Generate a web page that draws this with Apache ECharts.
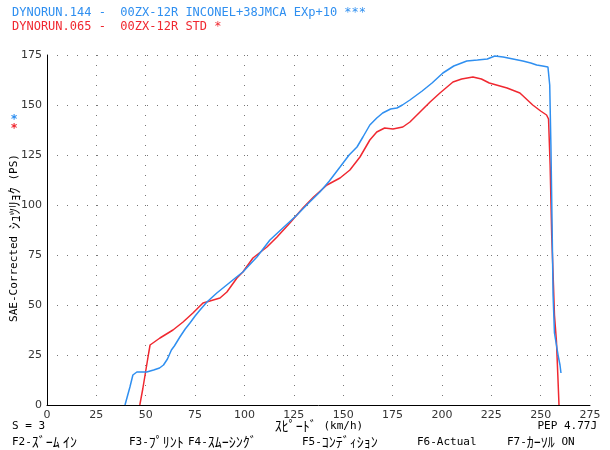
<!DOCTYPE html>
<html>
<head>
<meta charset="utf-8">
<script src="https://cdn.jsdelivr.net/npm/echarts@6/dist/echarts.min.js"></script>
<style>
  html, body { margin: 0; padding: 0; background: #fff; }
  #chart { width: 610px; height: 450px; }
</style>
</head>
<body>
<div id="chart"></div>
<script>
// run 144 (blue) - speed km/h / power PS
const blueSpeed = [39.5, 42, 43.5, 45.5, 50.5, 54, 57, 59, 61, 63, 64.5, 67.3, 70, 72.4, 75, 77.5, 81, 86, 91, 96, 99.2, 106.3, 112.9, 120, 126.6, 132, 138.2, 143, 148.4, 153, 157, 160, 163.5, 167, 170, 174, 177.2, 180, 183.8, 190, 195, 200.5, 206, 212.6, 218, 223, 226.8, 231, 236, 241, 245, 248, 251, 253.7, 254.6, 255.2, 255.8, 256.3, 257, 258, 259, 259.8, 260.3]
const bluePower = [0, 9, 15, 16.5, 16.5, 17.5, 18.5, 20, 23, 27.5, 29.5, 34, 38, 41, 44.5, 47.5, 51.5, 56, 60, 64, 66.5, 74, 82.5, 89, 95, 100.5, 106.5, 112, 119, 125, 129, 134, 140, 143.5, 146, 148, 148.5, 150, 152.5, 157, 161, 166, 169.5, 172, 172.5, 173, 174.5, 174, 173, 172, 171, 170, 169.5, 169, 160, 130, 90, 55, 36, 30, 24, 20, 16]

// run 065 (red)
const redSpeed = [47, 48.5, 50, 51.5, 52.2, 57.2, 63.8, 68.9, 73.9, 79, 82.5, 87.6, 91.1, 96.2, 99.2, 104.3, 111.4, 116.5, 123, 129.6, 135, 141.8, 148.4, 153.4, 158.5, 163.5, 167, 171, 175.2, 180.2, 183.8, 188.9, 194, 199, 205.6, 210, 215.7, 220, 224, 233, 239.5, 246, 250, 253, 254, 254.8, 255.6, 256.5, 257, 258, 258.7, 259.3]
const redPower = [0, 8, 17, 26, 30, 33.5, 37.5, 41.5, 46, 51, 52, 53.5, 56.5, 63.5, 66.5, 73.5, 79, 84, 91, 98.5, 104, 110, 113.5, 117.5, 124, 132.5, 136.5, 138.5, 138, 139, 141.5, 146.5, 151.5, 156, 161.5, 163, 164, 163, 161, 158.5, 156, 150, 147, 145, 143, 120, 85, 60, 45, 32, 15, 0]

const xTicks = [0, 25, 50, 75, 100, 125, 150, 175, 200, 225, 250, 275]
const yTicks = [0, 25, 50, 75, 100, 125, 150, 175]

const blueColor = '#2f8ff0'
const redColor = '#f02830'
const mono = '"DejaVu Sans Mono", monospace'
const sans = '"DejaVu Sans", sans-serif'

// ascii in mono, half-width kana a bit bigger so they read like the DOS screen
const rich = {
  a: { fontFamily: mono, fontSize: 11, color: '#333' },
  k: { fontFamily: '"Noto Sans CJK JP", sans-serif', fontSize: 14, color: '#333' }
}
const label = (x, y, text, align) => ({
  type: 'text', x: x, y: y,
  style: { text: text, rich: rich, align: align || 'left', verticalAlign: 'middle' }
})

const chart = echarts.init(document.getElementById('chart'))

const dots = { show: true, lineStyle: { color: '#777', width: 1, type: [1, 9] } }

const option = {
  animation: false,
  backgroundColor: '#fff',
  grid: { left: 47, right: 20, top: 55, bottom: 45 },
  xAxis: {
    type: 'value',
    min: 0,
    max: xTicks[xTicks.length - 1],
    interval: 25,
    axisLine: { lineStyle: { color: '#000', width: 1 } },
    axisTick: { show: false },
    axisLabel: { color: '#333', fontSize: 11, fontFamily: sans, margin: 5 },
    splitLine: dots
  },
  yAxis: {
    type: 'value',
    min: 0,
    max: yTicks[yTicks.length - 1],
    interval: 25,
    axisLine: { show: true, lineStyle: { color: '#000', width: 1 } },
    axisTick: { show: false },
    axisLabel: { color: '#333', fontSize: 11, fontFamily: sans, margin: 5 },
    splitLine: dots
  },
  series: [
    {
      type: 'line',
      data: blueSpeed.map((s, i) => [s, bluePower[i]]),
      showSymbol: false,
      lineStyle: { color: blueColor, width: 1.5 },
      z: 3
    },
    {
      type: 'line',
      data: redSpeed.map((s, i) => [s, redPower[i]]),
      showSymbol: false,
      lineStyle: { color: redColor, width: 1.5 },
      z: 2
    }
  ],
  graphic: [
    { type: 'text', left: 12, top: 7, style: { text: 'DYNORUN.144 -  00ZX-12R INCONEL+38JMCA EXp+10 ***', fill: blueColor, font: '12px ' + mono } },
    { type: 'text', left: 12, top: 21, style: { text: 'DYNORUN.065 -  00ZX-12R STD *', fill: redColor, font: '12px ' + mono } },
    { type: 'text', x: 14, y: 120, style: { text: '*', fill: blueColor, font: 'bold 12px ' + mono, align: 'center', verticalAlign: 'middle' } },
    { type: 'text', x: 14, y: 129, style: { text: '*', fill: redColor, font: 'bold 12px ' + mono, align: 'center', verticalAlign: 'middle' } },
    {
      type: 'text', x: 14, y: 238, rotation: Math.PI / 2,
      style: { text: '{a|SAE-Corrected }{k|ｼｭﾂﾘｮｸ}{a| (PS)}', rich: rich, align: 'center', verticalAlign: 'middle' }
    },
    label(12, 426, '{a|S = 3}'),
    label(319, 426, '{k|ｽﾋﾟｰﾄﾞ}{a| (km/h)}', 'center'),
    label(597, 426, '{a|PEP 4.77J}', 'right'),
    label(12, 442, '{a|F2-}{k|ｽﾞｰﾑ ｲﾝ}'),
    label(129, 442, '{a|F3-}{k|ﾌﾟﾘﾝﾄ}'),
    label(188, 442, '{a|F4-}{k|ｽﾑｰｼﾝｸﾞ}'),
    label(302, 442, '{a|F5-}{k|ｺﾝﾃﾞｨｼｮﾝ}'),
    label(417, 442, '{a|F6-Actual}'),
    label(507, 442, '{a|F7-}{k|ｶｰｿﾙ}{a| ON}')
  ]
}

chart.setOption(option)
</script>
</body>
</html>
